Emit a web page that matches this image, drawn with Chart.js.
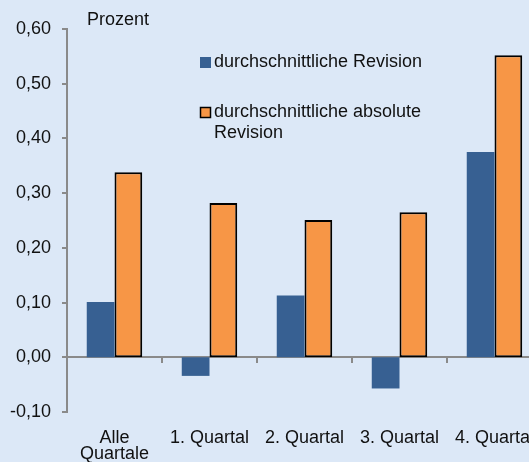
<!DOCTYPE html>
<html>
<head>
<meta charset="utf-8">
<script src="https://cdn.jsdelivr.net/npm/chart.js@4/dist/chart.umd.min.js"></script>
<style>
    html, body { margin: 0; padding: 0; overflow: hidden; background: #dce8f7; }
    canvas { display: block; }
</style>
</head>
<body>
<canvas id="revisionChart" width="543" height="462"></canvas>
<script>
const categories = [['Alle', 'Quartale'], '1. Quartal', '2. Quartal', '3. Quartal', '4. Quartal'];
const avgRevision = [0.101, -0.034, 0.113, -0.057, 0.375];
const avgAbsRevision = [0.338, 0.282, 0.251, 0.265, 0.552];
const seriesNames = ['durchschnittliche Revision', ['durchschnittliche absolute', 'Revision']];
const yRange = { min: -0.1, max: 0.6, step: 0.1 };
const unitLabel = 'Prozent';

const colors = {
    blue: '#376092',
    orange: '#f79646',
    axis: '#8a8a8a',
    text: '#111111',
    bg: '#dce8f7'
};

const font = { family: '"Liberation Sans", Arial, sans-serif', size: 18 };

// legend inside the plot + unit label, drawn from the dataset labels
const overlayText = {
    id: 'overlayText',
    afterDraw(chart) {
        const ctx = chart.ctx;
        ctx.save();
        ctx.font = `${font.size}px ${font.family}`;
        ctx.fillStyle = colors.text;
        ctx.textBaseline = 'middle';
        ctx.fillText(unitLabel, 87, 20);

        const rows = [62, 112];
        chart.data.datasets.forEach((ds, i) => {
            const y = rows[i];
            ctx.fillStyle = ds.backgroundColor;
            ctx.fillRect(200, y - 5, 11, 11);
            if (ds.borderWidth) {
                ctx.strokeStyle = ds.borderColor;
                ctx.lineWidth = 1.5;
                ctx.strokeRect(200.5, y - 4.5, 10, 10);
            }
            ctx.fillStyle = colors.text;
            const lines = Array.isArray(ds.label) ? ds.label : [ds.label];
            lines.forEach((line, k) => ctx.fillText(line, 214, y + k * 21));
        });
        ctx.restore();
    }
};

new Chart(document.getElementById('revisionChart'), {
    type: 'bar',
    data: {
        labels: categories,
        datasets: [{
            label: seriesNames[0],
            data: avgRevision,
            backgroundColor: colors.blue,
            borderWidth: 0
        }, {
            label: seriesNames[1],
            data: avgAbsRevision,
            backgroundColor: colors.orange,
            borderColor: '#000000',
            borderWidth: 2,
            borderSkipped: false
        }]
    },
    options: {
        responsive: false,
        animation: false,
        layout: { padding: { top: 29, right: 1, bottom: 0, left: 0 } },
        datasets: { bar: { categoryPercentage: 0.584, barPercentage: 1 } },
        plugins: { legend: { display: false }, tooltip: { enabled: false } },
        scales: {
            x: {
                // let the last label run off the edge like in the original
                afterFit: (scale) => {
                    scale.height = 50;
                    scale.paddingLeft = 0;
                    scale.paddingRight = 0;
                },
                grid: { display: false, drawTicks: false },
                border: { display: false },
                ticks: {
                    color: colors.text,
                    font: { ...font, lineHeight: 0.9 },
                    padding: 18,
                    maxRotation: 0,
                    autoSkip: false
                }
            },
            x2: {
                type: 'category',
                position: { y: 0 },
                offset: true,
                afterFit: (scale) => { scale.height = 0; },
                grid: { offset: true, drawOnChartArea: false, color: colors.axis, lineWidth: 2, tickLength: 5 },
                border: { color: colors.axis, width: 2 },
                ticks: { display: false }
            },
            y: {
                min: yRange.min,
                max: yRange.max,
                afterFit: (scale) => { scale.width = 67; },
                grid: { drawOnChartArea: false, color: colors.axis, lineWidth: 2, tickLength: 5 },
                border: { color: colors.axis, width: 2 },
                ticks: {
                    stepSize: yRange.step,
                    color: colors.text,
                    font,
                    padding: 11,
                    callback: (v) => (Math.abs(v) < 1e-9 ? 0 : v).toFixed(2).replace('.', ',')
                }
            }
        }
    },
    plugins: [overlayText]
});
</script>
</body>
</html>
